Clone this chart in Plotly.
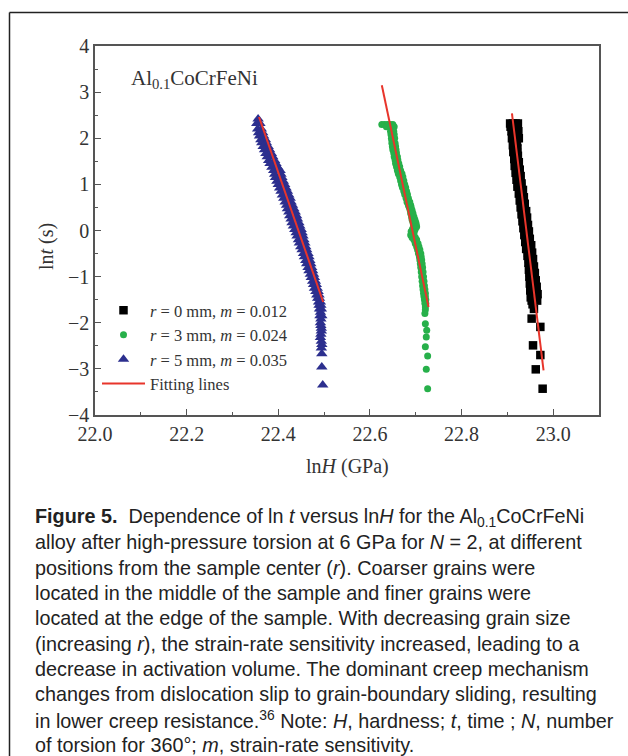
import plotly.graph_objects as go

# ln H (x) and ln t (y) readings, r = 0 mm
x_r0 = [22.906, 22.912, 22.918, 22.923, 22.907, 22.915, 22.922,
        22.909, 22.918, 22.924, 22.911, 22.921, 22.910, 22.919, 22.925,
        22.913, 22.921, 22.912, 22.920, 22.914, 22.922, 22.913, 22.921,
        22.916, 22.923, 22.915, 22.922, 22.917, 22.925, 22.916, 22.924,
        22.919, 22.927, 22.918, 22.926, 22.921, 22.929, 22.920, 22.928,
        22.923, 22.931, 22.922, 22.930, 22.926, 22.934, 22.925, 22.933,
        22.928, 22.936, 22.927, 22.935, 22.930, 22.938, 22.929, 22.937,
        22.932, 22.941, 22.931, 22.940, 22.934, 22.943, 22.933, 22.942,
        22.936, 22.945, 22.935, 22.944, 22.938, 22.947, 22.937, 22.946,
        22.940, 22.949, 22.939, 22.948, 22.942, 22.952, 22.941, 22.951,
        22.945, 22.954, 22.944, 22.953, 22.947, 22.956, 22.946, 22.955,
        22.948, 22.958, 22.947, 22.957, 22.949, 22.960, 22.948, 22.959,
        22.950, 22.962, 22.949, 22.961, 22.951, 22.964, 22.950, 22.963,
        22.952, 22.966, 22.951, 22.964, 22.953, 22.965, 22.955, 22.958,
        22.953, 22.972, 22.956, 22.972, 22.962, 22.977]
y_r0 = [2.32, 2.32, 2.32, 2.32, 2.25, 2.25, 2.25,
        2.15, 2.15, 2.15, 2.08, 2.08, 2.0, 2.0, 2.0,
        1.92, 1.92, 1.85, 1.85, 1.78, 1.78, 1.7, 1.7,
        1.62, 1.62, 1.55, 1.55, 1.48, 1.48, 1.4, 1.4,
        1.32, 1.32, 1.25, 1.25, 1.18, 1.18, 1.1, 1.1,
        1.02, 1.02, 0.95, 0.95, 0.88, 0.88, 0.8, 0.8,
        0.72, 0.72, 0.65, 0.65, 0.58, 0.58, 0.5, 0.5,
        0.42, 0.42, 0.35, 0.35, 0.28, 0.28, 0.2, 0.2,
        0.12, 0.12, 0.05, 0.05, -0.02, -0.02, -0.1, -0.1,
        -0.18, -0.18, -0.25, -0.25, -0.32, -0.32, -0.4, -0.4,
        -0.48, -0.48, -0.55, -0.55, -0.62, -0.62, -0.7, -0.7,
        -0.78, -0.78, -0.85, -0.85, -0.92, -0.92, -1.0, -1.0,
        -1.08, -1.08, -1.15, -1.15, -1.22, -1.22, -1.3, -1.3,
        -1.38, -1.38, -1.45, -1.45, -1.52, -1.52, -1.6, -1.7,
        -1.91, -2.09, -2.49, -2.70, -3.01, -3.43]

# r = 3 mm
x_r3 = [22.626, 22.632, 22.638, 22.644, 22.650, 22.636, 22.646, 22.653,
        22.645, 22.652, 22.646, 22.653, 22.647, 22.654, 22.648, 22.648, 22.655,
        22.649, 22.656, 22.650, 22.657, 22.652, 22.658, 22.653, 22.660,
        22.655, 22.661, 22.656, 22.663, 22.658, 22.665, 22.660, 22.667,
        22.662, 22.670, 22.665, 22.672, 22.667, 22.674, 22.669, 22.676,
        22.671, 22.678, 22.674, 22.680, 22.676, 22.682, 22.679, 22.684,
        22.681, 22.687, 22.684, 22.689, 22.686, 22.690, 22.688, 22.692,
        22.689, 22.694, 22.691, 22.696, 22.692, 22.698, 22.695, 22.701,
        22.694, 22.700, 22.696, 22.702, 22.693, 22.699, 22.690, 22.697,
        22.689, 22.696, 22.692, 22.699, 22.696, 22.702, 22.699, 22.705,
        22.702, 22.707, 22.704, 22.709, 22.706, 22.711, 22.708, 22.712,
        22.709, 22.713, 22.710, 22.714, 22.711, 22.715, 22.712, 22.716,
        22.713, 22.717, 22.714, 22.718, 22.715, 22.719, 22.716, 22.720,
        22.717, 22.721, 22.718, 22.721, 22.719, 22.722, 22.720, 22.722,
        22.721, 22.721,
        22.720, 22.721, 22.724, 22.723, 22.721, 22.726, 22.723, 22.726]
y_r3 = [2.30, 2.30, 2.30, 2.30, 2.30, 2.25, 2.25, 2.25,
        2.15, 2.15, 2.08, 2.08, 2.0, 2.0, 1.95, 1.89, 1.89,
        1.82, 1.82, 1.75, 1.75, 1.68, 1.68, 1.6, 1.6,
        1.53, 1.53, 1.45, 1.45, 1.38, 1.38, 1.3, 1.3,
        1.23, 1.23, 1.16, 1.16, 1.08, 1.08, 1.0, 1.0,
        0.93, 0.93, 0.85, 0.85, 0.78, 0.78, 0.7, 0.7,
        0.62, 0.62, 0.55, 0.55, 0.5, 0.5, 0.44, 0.44,
        0.37, 0.37, 0.3, 0.3, 0.24, 0.24, 0.13, 0.13,
        0.18, 0.18, 0.08, 0.08, 0.03, 0.03, -0.02, -0.02,
        -0.1, -0.1, -0.15, -0.15, -0.2, -0.2, -0.28, -0.28,
        -0.35, -0.35, -0.42, -0.42, -0.5, -0.5, -0.57, -0.57,
        -0.64, -0.64, -0.72, -0.72, -0.8, -0.8, -0.9, -0.9,
        -1.0, -1.0, -1.1, -1.1, -1.2, -1.2, -1.28, -1.28,
        -1.36, -1.36, -1.43, -1.43, -1.5, -1.5, -1.58, -1.58,
        -1.66, -1.72,
        -1.80, -2.02, -2.16, -2.31, -2.52, -2.72, -3.01, -3.43]

# r = 5 mm
x_r5 = [22.356, 22.353, 22.360, 22.355, 22.363, 22.357, 22.366, 22.359, 22.368,
        22.362, 22.372, 22.364, 22.374, 22.367, 22.378, 22.370, 22.381,
        22.373, 22.385, 22.376, 22.388, 22.379, 22.392, 22.382, 22.395,
        22.386, 22.399, 22.390, 22.404, 22.392, 22.406, 22.394, 22.408,
        22.397, 22.411, 22.400, 22.414, 22.403, 22.417, 22.406, 22.420,
        22.409, 22.423, 22.412, 22.426, 22.415, 22.428, 22.418, 22.431,
        22.420, 22.434, 22.423, 22.437, 22.425, 22.440, 22.428, 22.442,
        22.430, 22.445, 22.433, 22.447, 22.436, 22.450, 22.439, 22.452,
        22.441, 22.454, 22.444, 22.456, 22.446, 22.458, 22.449, 22.460,
        22.452, 22.462, 22.455, 22.465, 22.457, 22.467, 22.460, 22.469,
        22.462, 22.471, 22.465, 22.473, 22.467, 22.475, 22.470, 22.477,
        22.472, 22.479, 22.475, 22.481, 22.477, 22.483, 22.479, 22.485,
        22.482, 22.487, 22.484, 22.489, 22.486, 22.490, 22.488, 22.492,
        22.489, 22.493, 22.490, 22.494, 22.492, 22.491, 22.495, 22.493,
        22.492, 22.493, 22.494, 22.494, 22.493, 22.492, 22.494, 22.495,
        22.494, 22.495, 22.495, 22.497]
y_r5 = [2.42, 2.32, 2.32, 2.2, 2.2, 2.12, 2.12, 2.05, 2.05,
        1.97, 1.97, 1.9, 1.9, 1.82, 1.82, 1.75, 1.75,
        1.67, 1.67, 1.6, 1.6, 1.52, 1.52, 1.45, 1.45,
        1.37, 1.37, 1.3, 1.3, 1.22, 1.22, 1.15, 1.15,
        1.07, 1.07, 1.0, 1.0, 0.92, 0.92, 0.85, 0.85,
        0.77, 0.77, 0.7, 0.7, 0.62, 0.62, 0.55, 0.55,
        0.47, 0.47, 0.4, 0.4, 0.32, 0.32, 0.25, 0.25,
        0.17, 0.17, 0.1, 0.1, 0.02, 0.02, -0.05, -0.05,
        -0.12, -0.12, -0.2, -0.2, -0.27, -0.27, -0.35, -0.35,
        -0.42, -0.42, -0.5, -0.5, -0.57, -0.57, -0.65, -0.65,
        -0.72, -0.72, -0.8, -0.8, -0.87, -0.87, -0.95, -0.95,
        -1.02, -1.02, -1.1, -1.1, -1.17, -1.17, -1.25, -1.25,
        -1.32, -1.32, -1.4, -1.4, -1.47, -1.47, -1.55, -1.55,
        -1.62, -1.62, -1.7, -1.7, -1.77, -1.85, -1.85, -1.92,
        -2.0, -2.06, -2.12, -2.18, -2.25, -2.32, -2.4, -2.47,
        -2.55, -2.67, -2.96, -3.35]

# Fitted straight lines (end points), one segment per radius
fit_x = [22.910, 22.979, None, 22.626, 22.728, None, 22.358, 22.498]
fit_y = [2.54, -3.03, None, 3.15, -1.66, None, 2.46, -1.55]

series_names = ["<i>r</i> = 0 mm, <i>m</i> = 0.012",
                "<i>r</i> = 3 mm, <i>m</i> = 0.024",
                "<i>r</i> = 5 mm, <i>m</i> = 0.035",
                "Fitting lines"]

x_ticks = [22.0, 22.2, 22.4, 22.6, 22.8, 23.0]
x_tick_text = ["22.0", "22.2", "22.4", "22.6", "22.8", "23.0"]
y_ticks = [-4, -3, -2, -1, 0, 1, 2, 3, 4]

caption_lines = [
    "<b>Figure 5.</b>  Dependence of ln <i>t</i> versus ln<i>H</i> for the Al<sub>0.1</sub>CoCrFeNi",
    "alloy after high-pressure torsion at 6 GPa for <i>N</i> = 2, at different",
    "positions from the sample center (<i>r</i>). Coarser grains were",
    "located in the middle of the sample and finer grains were",
    "located at the edge of the sample. With decreasing grain size",
    "(increasing <i>r</i>), the strain-rate sensitivity increased, leading to a",
    "decrease in activation volume. The dominant creep mechanism",
    "changes from dislocation slip to grain-boundary sliding, resulting",
    "in lower creep resistance.<sup>36</sup> Note: <i>H</i>, hardness; <i>t</i>, time ; <i>N</i>, number",
    "of torsion for 360°; <i>m</i>, strain-rate sensitivity.",
]

SERIF = "Liberation Serif, Times New Roman, serif"
SANS = "Liberation Sans, Arial, sans-serif"

W, H = 628, 756
L, R, T, B = 95, 599, 46, 415


def px(xp):
    return (xp - L) / (R - L)


def py(yp):
    return (B - yp) / (B - T)


fig = go.Figure()
fig.add_trace(go.Scatter(x=x_r0, y=y_r0, mode="markers", name=series_names[0],
                         marker=dict(symbol="square", size=8.5, color="#000000",
                                     line=dict(width=0))))
fig.add_trace(go.Scatter(x=x_r3, y=y_r3, mode="markers", name=series_names[1],
                         marker=dict(symbol="circle", size=7, color="#27b04a",
                                     line=dict(width=0))))
fig.add_trace(go.Scatter(x=x_r5, y=y_r5, mode="markers", name=series_names[2],
                         marker=dict(symbol="triangle-up", size=10, color="#2c2f8e",
                                     line=dict(width=0))))
fig.add_trace(go.Scatter(x=fit_x, y=fit_y, mode="lines", name=series_names[3],
                         line=dict(color="#e8352b", width=2)))

axis_common = dict(showgrid=False, zeroline=False, showline=True, linecolor="#555555",
                   linewidth=1.5, mirror=True, ticks="inside", ticklen=6, tickwidth=1.2,
                   tickcolor="#555555", tickfont=dict(family=SERIF, size=20, color="#333333"))

fig.update_xaxes(range=[22.0, 23.1], tickmode="array", tickvals=x_ticks, ticktext=x_tick_text,
                 minor=dict(ticks="inside", ticklen=3.5, tickwidth=1.2, tickcolor="#555555",
                            dtick=0.1, tick0=22.0),
                 **axis_common)
fig.update_yaxes(range=[-4, 4], tickmode="array", tickvals=y_ticks,
                 minor=dict(ticks="inside", ticklen=3.5, tickwidth=1.2, tickcolor="#555555",
                            dtick=0.5, tick0=0),
                 **axis_common)

annotations = [
    dict(text="ln<i>H</i> (GPa)", x=px(347), y=py(466), xref="paper", yref="paper",
         xanchor="center", yanchor="middle", showarrow=False,
         font=dict(family=SERIF, size=20, color="#333333")),
    dict(text="ln<i>t</i> (s)", x=px(46), y=py(247), xref="paper", yref="paper",
         xanchor="center", yanchor="middle", showarrow=False, textangle=-90,
         font=dict(family=SERIF, size=20, color="#333333")),
    dict(text="Al<sub>0.1</sub>CoCrFeNi", x=px(129), y=py(79), xref="paper", yref="paper",
         xanchor="left", yanchor="middle", showarrow=False,
         font=dict(family=SERIF, size=21, color="#333333")),
]

cap_y0, cap_dy = 517, 25.3
for i, line in enumerate(caption_lines):
    annotations.append(dict(text=line, x=px(33), y=py(cap_y0 + i * cap_dy), xref="paper",
                            yref="paper", xanchor="left", yanchor="middle", showarrow=False,
                            font=dict(family=SANS, size=19.8, color="#222222")))

# Panel frame: top and left rules running off the page
frame_x, frame_y = px(9.5), py(12.5)
shapes = [
    dict(type="line", xref="paper", yref="paper", x0=frame_x, x1=1.2, y0=frame_y, y1=frame_y,
         line=dict(color="#222222", width=1.5)),
    dict(type="line", xref="paper", yref="paper", x0=frame_x, x1=frame_x, y0=frame_y, y1=-1.2,
         line=dict(color="#222222", width=1.5)),
]

fig.update_layout(
    width=W, height=H,
    margin=dict(l=L, r=W - R, t=T, b=H - B, pad=0),
    paper_bgcolor="white", plot_bgcolor="white",
    showlegend=True,
    legend=dict(x=px(97), y=py(293), xanchor="left", yanchor="top",
                bgcolor="rgba(0,0,0,0)", borderwidth=0, itemwidth=43,
                font=dict(family=SERIF, size=16.5, color="#333333"),
                tracegroupgap=0, itemsizing="trace"),
    annotations=annotations,
    shapes=shapes,
)

fig.write_html("out.html")
